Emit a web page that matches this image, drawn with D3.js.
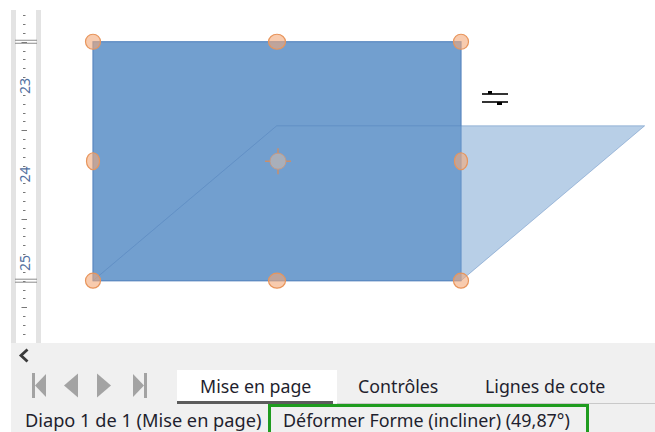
<!DOCTYPE html>
<html>
<head>
<meta charset="utf-8">
<script src="https://cdn.jsdelivr.net/npm/d3@7"></script>
<style>
  body { margin: 0; background: #fff; }
  svg { display: block; }
  text { font-family: "Noto Sans", "Open Sans", sans-serif; }
</style>
</head>
<body>
<svg id="view" width="655" height="432"></svg>
<script>
// ruler labels (cm) and shape geometry, in cm
var rulerLabels = [23, 24, 25];
var rectX = [2.0, 6.16];
var rectY = [22.5, 25.2];
var shearHeight = 1.75;
var shearAngle = 49.87;
var tabs = ["Mise en page", "Contrôles", "Lignes de cote"];
var statusTexts = ["Diapo 1 de 1 (Mise en page)", "Déformer Forme (incliner) (49,87°)"];

var width = 655, height = 432;
var svg = d3.select("#view");

var y = d3.scaleLinear().domain([23, 25]).range([86, 263]);
var x = d3.scaleLinear().domain(rectX).range([93, 461]);

// ---- vertical ruler
var ruler = svg.append("g");
ruler.append("rect").attr("x", 11).attr("y", 10).attr("width", 30).attr("height", 333).attr("fill", "#e3e3e3");
ruler.append("rect").attr("x", 16).attr("y", 10).attr("width", 20).attr("height", 333).attr("fill", "#fff");

var ticks = d3.range(222, 259).map(d => d / 10);
var isHalf = d => Math.abs(d * 2 - Math.round(d * 2)) < 0.01;
ruler.selectAll(".tk")
    .data(ticks.filter(d => Math.abs(d - Math.round(d)) > 0.01))
    .enter().append("line")
    .attr("x1", d => isHalf(d) ? 21.5 : 23)
    .attr("x2", d => isHalf(d) ? 27 : 25.5)
    .attr("y1", d => Math.round(y(d)) + 0.5).attr("y2", d => Math.round(y(d)) + 0.5)
    .attr("stroke", "#777").attr("stroke-width", 1);

ruler.selectAll(".lb")
    .data(rulerLabels)
    .enter().append("text")
    .attr("transform", d => "translate(30," + y(d) + ") rotate(-90)")
    .attr("text-anchor", "middle")
    .attr("font-size", 14)
    .attr("fill", "#52709f")
    .text(d => d);

// double lines on the ruler at the shape extents
rectY.forEach(function (v) {
    [-1.5, 1.5].forEach(function (o) {
        ruler.append("line")
            .attr("x1", 15).attr("x2", 37)
            .attr("y1", y(v) + o).attr("y2", y(v) + o)
            .attr("stroke", "#8a8a8a").attr("stroke-width", 1);
    });
});

// ---- shape + shear preview
var offset = shearHeight * Math.tan(shearAngle * Math.PI / 180);
var para = [
    [x(rectX[0]), y(rectY[1])],
    [x(rectX[0] + offset), y(rectY[1] - shearHeight)],
    [x(rectX[1] + offset), y(rectY[1] - shearHeight)],
    [x(rectX[1]), y(rectY[1])]
];

svg.append("rect")
    .attr("x", x(rectX[0])).attr("y", y(rectY[0]))
    .attr("width", x(rectX[1]) - x(rectX[0]))
    .attr("height", y(rectY[1]) - y(rectY[0]))
    .attr("fill", "#729fcf")
    .attr("stroke", "#5a88c0").attr("stroke-width", 1.2);

svg.append("path")
    .attr("d", d3.line()(para) + "Z")
    .attr("fill", "#729fcf").attr("fill-opacity", 0.5)
    .attr("stroke", "#4f7fba").attr("stroke-opacity", 0.45).attr("stroke-width", 1);

// ---- handles
var xm = (x(rectX[0]) + x(rectX[1])) / 2, ym = (y(rectY[0]) + y(rectY[1])) / 2;
var handles = [
    [x(rectX[0]), y(rectY[0]), 7.5, 7.5], [xm, y(rectY[0]), 8.5, 7.5], [x(rectX[1]), y(rectY[0]), 7.5, 7.5],
    [x(rectX[0]), ym, 6.5, 8.5], [x(rectX[1]), ym, 6.5, 8.5],
    [x(rectX[0]), y(rectY[1]), 7.5, 7.5], [xm, y(rectY[1]), 8.5, 7.5], [x(rectX[1]), y(rectY[1]), 7.5, 7.5]
];
svg.selectAll(".hd")
    .data(handles)
    .enter().append("ellipse")
    .attr("cx", d => d[0]).attr("cy", d => d[1])
    .attr("rx", d => d[2]).attr("ry", d => d[3])
    .attr("fill", "#f3a878").attr("fill-opacity", 0.6)
    .attr("stroke", "#e8955c").attr("stroke-width", 1.2);

var ctr = svg.append("g").attr("transform", "translate(" + (xm + 1) + "," + ym + ")");
[[-13, 0, 13, 0], [0, -13, 0, 13]].forEach(function (l) {
    ctr.append("line").attr("x1", l[0]).attr("y1", l[1]).attr("x2", l[2]).attr("y2", l[3])
        .attr("stroke", "#c98f6c").attr("stroke-width", 1.5);
});
ctr.append("circle").attr("r", 8).attr("fill", "#a9afba").attr("stroke", "#c39a86").attr("stroke-width", 1);

// ---- shear cursor
var cur = svg.append("g").attr("transform", "translate(495,97)");
cur.append("line").attr("x1", -13).attr("x2", 13).attr("y1", -3).attr("y2", -3).attr("stroke", "#000").attr("stroke-width", 1.6);
cur.append("line").attr("x1", -13).attr("x2", 13).attr("y1", 5).attr("y2", 5).attr("stroke", "#000").attr("stroke-width", 1.6);
cur.append("rect").attr("x", -7).attr("y", -6).attr("width", 4).attr("height", 3).attr("fill", "#000");
cur.append("rect").attr("x", 2).attr("y", 5).attr("width", 5).attr("height", 3).attr("fill", "#000");

// ---- bottom bar
var bar = svg.append("g");
bar.append("rect").attr("x", 11).attr("y", 343).attr("width", width - 11).attr("height", height - 343).attr("fill", "#f0f0f0");
bar.append("path").attr("d", "M27.5,349.5 L21,355.5 L27.5,361.5").attr("fill", "none").attr("stroke", "#3a3a3a").attr("stroke-width", 2.8);

var nav = bar.append("g").attr("fill", "#a3a3a3");
nav.append("rect").attr("x", 32).attr("y", 373).attr("width", 3).attr("height", 25);
nav.append("path").attr("d", "M35,385.5 L46,374 L46,397 Z");
nav.append("path").attr("d", "M64,385.5 L78,373.5 L78,397.5 Z");
nav.append("path").attr("d", "M97,373.5 L111,385.5 L97,397.5 Z");
nav.append("path").attr("d", "M133,374 L144,385.5 L133,397 Z");
nav.append("rect").attr("x", 144).attr("y", 373).attr("width", 3).attr("height", 25);

bar.append("rect").attr("x", 177).attr("y", 370).attr("width", 160).attr("height", 33).attr("fill", "#fff");
bar.append("line").attr("x1", 337).attr("x2", width).attr("y1", 403.5).attr("y2", 403.5).attr("stroke", "#c9c9c9");
bar.append("rect").attr("x", 177).attr("y", 401).attr("width", 156).attr("height", 3).attr("fill", "#5c5c5c");

var tabX = [200, 358, 485];
bar.selectAll(".tab")
    .data(tabs)
    .enter().append("text")
    .attr("x", (d, i) => tabX[i]).attr("y", 393)
    .attr("font-size", 17.8).attr("fill", "#1f1f2e")
    .text(d => d);

bar.append("text").attr("x", 25).attr("y", 427).attr("font-size", 18.2).attr("fill", "#1f1f2e").text(statusTexts[0]);
bar.append("text").attr("x", 283).attr("y", 427).attr("font-size", 17.9).attr("fill", "#1f1f2e").text(statusTexts[1]);

bar.append("path")
    .attr("d", "M269.5,434 L269.5,405.5 L587.5,405.5 L587.5,434")
    .attr("fill", "none").attr("stroke", "#1f9c1f").attr("stroke-width", 3);
</script>
</body>
</html>
